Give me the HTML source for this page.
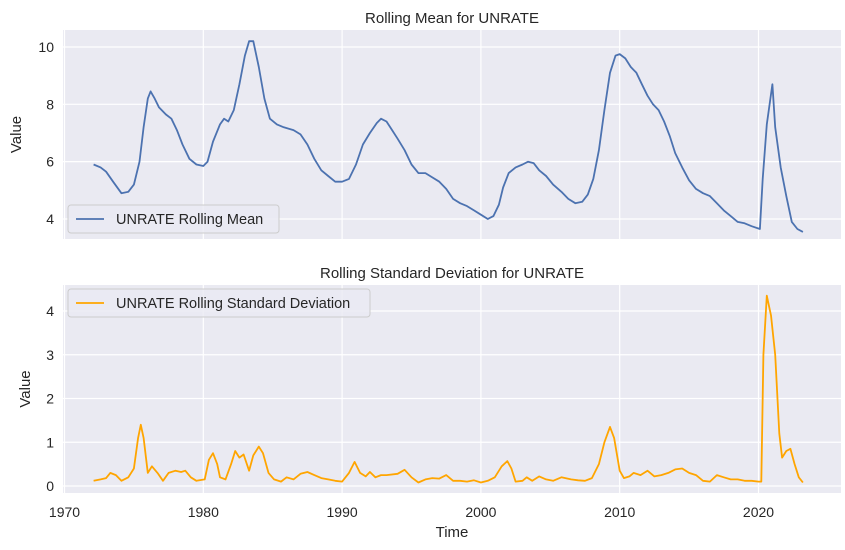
<!DOCTYPE html>
<html><head><meta charset="utf-8"><style>
html,body{margin:0;padding:0;background:#fff;}
svg{display:block;font-family:"Liberation Sans","DejaVu Sans",sans-serif;}
</style></head><body>
<svg id="chart" width="845" height="550" viewBox="0 0 845 550"></svg>
<script>
const meanYears=[1972.1,1972.6,1973,1973.5,1974.1,1974.6,1975,1975.4,1975.7,1976,1976.2,1976.5,1976.8,1977.3,1977.7,1978.1,1978.5,1979,1979.5,1980,1980.3,1980.7,1981.2,1981.5,1981.8,1982.2,1982.6,1983,1983.3,1983.6,1984,1984.4,1984.8,1985.3,1985.8,1986.5,1987,1987.5,1988,1988.5,1989,1989.5,1990,1990.5,1991,1991.5,1992,1992.5,1992.8,1993.2,1993.6,1994,1994.5,1995,1995.5,1996,1996.5,1997,1997.5,1998,1998.5,1999,1999.5,2000,2000.5,2000.9,2001.3,2001.6,2002,2002.5,2003,2003.4,2003.8,2004.2,2004.7,2005.2,2005.8,2006.3,2006.8,2007.3,2007.7,2008.1,2008.5,2008.9,2009.3,2009.7,2010,2010.4,2010.8,2011.2,2011.6,2012,2012.4,2012.8,2013.2,2013.6,2014,2014.5,2015,2015.5,2016,2016.5,2017,2017.5,2018,2018.5,2019,2019.5,2020.1,2020.3,2020.6,2021,2021.2,2021.6,2022,2022.4,2022.8,2023.2];
const meanValues=[5.9,5.8,5.65,5.3,4.9,4.95,5.2,6,7.2,8.2,8.45,8.2,7.9,7.65,7.5,7.1,6.6,6.1,5.9,5.85,6,6.7,7.3,7.5,7.4,7.8,8.7,9.7,10.2,10.2,9.3,8.2,7.5,7.3,7.2,7.1,6.95,6.6,6.1,5.7,5.5,5.3,5.3,5.4,5.9,6.6,7,7.35,7.5,7.4,7.1,6.8,6.4,5.9,5.6,5.6,5.45,5.3,5.05,4.7,4.55,4.45,4.3,4.15,4.0,4.1,4.5,5.1,5.6,5.8,5.9,6.0,5.95,5.7,5.5,5.2,4.95,4.7,4.55,4.6,4.85,5.4,6.4,7.8,9.1,9.7,9.75,9.6,9.3,9.1,8.7,8.3,8.0,7.8,7.4,6.9,6.3,5.8,5.35,5.05,4.9,4.8,4.55,4.3,4.1,3.9,3.85,3.75,3.65,5.4,7.3,8.7,7.2,5.8,4.8,3.9,3.65,3.55];
const stdYears=[1972.1,1972.6,1973,1973.3,1973.7,1974.1,1974.6,1975,1975.3,1975.5,1975.7,1976,1976.3,1976.7,1977.1,1977.5,1978,1978.4,1978.7,1979.1,1979.5,1980.1,1980.4,1980.7,1981,1981.2,1981.6,1982,1982.3,1982.6,1982.9,1983.3,1983.6,1984,1984.3,1984.7,1985.1,1985.6,1986,1986.5,1987,1987.5,1988,1988.5,1989,1989.5,1990,1990.5,1990.9,1991.3,1991.7,1992,1992.4,1992.8,1993.2,1994,1994.5,1995,1995.5,1996,1996.5,1997,1997.5,1998,1998.5,1999,1999.5,2000,2000.5,2001,2001.5,2001.9,2002.2,2002.5,2003,2003.3,2003.7,2004.2,2004.7,2005.2,2005.8,2006.5,2007,2007.5,2008,2008.5,2008.9,2009.3,2009.6,2010,2010.3,2010.7,2011,2011.5,2012,2012.5,2013,2013.5,2014,2014.5,2015,2015.5,2016,2016.5,2017,2017.5,2018,2018.5,2019,2019.5,2020,2020.2,2020.35,2020.6,2020.9,2021.2,2021.5,2021.7,2022,2022.3,2022.6,2022.9,2023.2];
const stdValues=[0.12,0.15,0.18,0.3,0.25,0.12,0.2,0.4,1.1,1.4,1.1,0.3,0.45,0.3,0.12,0.3,0.35,0.32,0.35,0.2,0.12,0.15,0.6,0.75,0.5,0.2,0.15,0.5,0.8,0.65,0.72,0.35,0.7,0.9,0.75,0.3,0.15,0.1,0.2,0.15,0.28,0.32,0.25,0.18,0.15,0.12,0.1,0.3,0.55,0.3,0.22,0.32,0.2,0.25,0.25,0.28,0.37,0.2,0.08,0.15,0.18,0.17,0.25,0.12,0.12,0.1,0.13,0.08,0.12,0.2,0.45,0.57,0.4,0.1,0.12,0.2,0.12,0.22,0.15,0.12,0.2,0.15,0.13,0.12,0.18,0.5,1.0,1.35,1.1,0.35,0.18,0.22,0.3,0.25,0.35,0.22,0.25,0.3,0.38,0.4,0.3,0.25,0.12,0.1,0.25,0.2,0.15,0.15,0.12,0.12,0.1,0.1,3.0,4.35,3.9,3.0,1.2,0.65,0.8,0.85,0.5,0.2,0.08];
const xTicks=[1970,1980,1990,2000,2010,2020];
const meanTicks=[4,6,8,10];
const stdTicks=[0,1,2,3,4];

const svg=document.getElementById('chart');
const NS='http://www.w3.org/2000/svg';
function mk(tag,attrs,parent){const e=document.createElementNS(NS,tag);for(const k in attrs)e.setAttribute(k,attrs[k]);(parent||svg).appendChild(e);return e;}
const X0=63,X1=841;
const xs=y=>64.5+(y-1970)*13.88;

function panel(name,top,bottom,yf,ticks,years,vals,color,title,legendText,legendY,legendW,showX,ytX){
  const g=mk('g',{});
  
  
  const bg=mk('rect',{x:X0,y:top,width:X1-X0,height:bottom-top,fill:'#eaeaf2'},g);
  
  
  xTicks.forEach(t=>{
    const l=mk('line',{x1:xs(t),x2:xs(t),y1:top,y2:bottom,stroke:'#fff','stroke-width':1.2},g);
    
    
    if(showX){
      const tx=mk('text',{x:xs(t),y:bottom+24,'text-anchor':'middle','font-size':14,fill:'#262626'},g);
      tx.textContent=t;
      
      
    }
  });
  ticks.forEach(t=>{
    const l=mk('line',{x1:X0,x2:X1,y1:yf(t),y2:yf(t),stroke:'#fff','stroke-width':1.2},g);
    
    
    const tx=mk('text',{x:X0-9,y:yf(t)+5,'text-anchor':'end','font-size':14,fill:'#262626'},g);
    tx.textContent=t;
    
    
  });
  const pts=years.map((y,i)=>xs(y).toFixed(1)+','+yf(vals[i]).toFixed(1)).join(' ');
  const line=mk('polyline',{points:pts,fill:'none',stroke:color,'stroke-width':1.8,'stroke-linejoin':'round'},g);
  
  
  const tt=mk('text',{x:(X0+X1)/2,y:top-7,'text-anchor':'middle','font-size':15,fill:'#262626'},g);
  tt.textContent=title;
  
  
  const yl=mk('text',{x:0,y:0,'text-anchor':'middle','font-size':15,fill:'#262626',transform:`translate(${ytX},${(top+bottom)/2}) rotate(-90)`},g);
  yl.textContent='Value';
  
  
  const lg=mk('g',{},g);
  
  
  mk('rect',{x:68,y:legendY,width:legendW,height:28,rx:3,fill:'#eaeaf2','fill-opacity':0.8,stroke:'#cccccc'},lg);
  mk('line',{x1:76,x2:104,y1:legendY+14,y2:legendY+14,stroke:color,'stroke-width':1.8},lg);
  const lt=mk('text',{x:116,y:legendY+19,'font-size':14.5,fill:'#262626'},lg);
  lt.textContent=legendText;
  
  
}
panel('rolling-mean',30,239,v=>219-(v-4)*28.67,meanTicks,meanYears,meanValues,'#4c72b0','Rolling Mean for UNRATE','UNRATE Rolling Mean',205,211,false,21);
panel('rolling-std',285,493,v=>486-v*43.75,stdTicks,stdYears,stdValues,'#ffa500','Rolling Standard Deviation for UNRATE','UNRATE Rolling Standard Deviation',289,302,true,30);
const xl=mk('text',{x:(X0+X1)/2,y:537,'text-anchor':'middle','font-size':15,fill:'#262626'});
xl.textContent='Time';


</script>
</body></html>
